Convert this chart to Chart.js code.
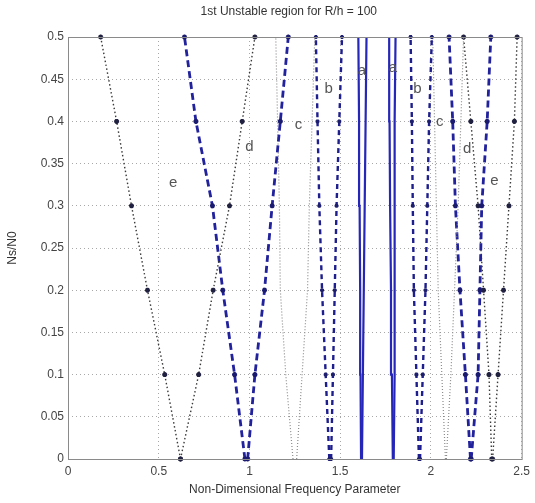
<!DOCTYPE html>
<html>
<head>
<meta charset="utf-8">
<script src="https://cdn.jsdelivr.net/npm/chart.js@4.4.1/dist/chart.umd.min.js"></script>
<style>
    html, body { margin: 0; padding: 0; background: #fff; }
</style>
</head>
<body>
<canvas id="regionChart" width="535" height="503"></canvas>
<script>
// Ns/N0 levels where every boundary was sampled
const nsRatio = [0, 0.1, 0.2, 0.3, 0.4, 0.5];

// first family of regions (left)
const eLeftA = [0.62, 0.533, 0.438, 0.35, 0.268, 0.18];
const eLeftB = [0.62, 0.72, 0.80, 0.89, 0.96, 1.03];
const dLeftA = [0.975, 0.918, 0.853, 0.796, 0.705, 0.642];
const dLeftB = [0.99, 1.03, 1.083, 1.125, 1.17, 1.214];
const cLeftA = [1.24, 1.20, 1.17, 1.165, 1.155, 1.145];
const cLeftB = [1.26, 1.29, 1.32, 1.33, 1.345, 1.36];
const bLeftA = [1.44, 1.42, 1.40, 1.385, 1.375, 1.366];
const bLeftB = [1.45, 1.46, 1.47, 1.48, 1.495, 1.51];
const aLeftA = [1.615, 1.612, 1.61, 1.607, 1.604, 1.60];
const aLeftB = [1.62, 1.625, 1.63, 1.635, 1.64, 1.645];

// second family of regions (right)
const aRightA = [1.79, 1.785, 1.78, 1.775, 1.772, 1.77];
const aRightB = [1.795, 1.80, 1.80, 1.80, 1.80, 1.805];
const bRightA = [1.934, 1.92, 1.906, 1.90, 1.895, 1.888];
const bRightB = [1.94, 1.955, 1.97, 1.98, 1.99, 2.005];
const cRightA = [2.08, 2.06, 2.04, 2.03, 2.02, 2.01];
const cRightB = [2.085, 2.11, 2.13, 2.15, 2.165, 2.18];
const dRightA = [2.218, 2.19, 2.16, 2.135, 2.12, 2.10];
const dRightB = [2.222, 2.26, 2.27, 2.28, 2.31, 2.33];
const eRightA = [2.335, 2.32, 2.29, 2.26, 2.22, 2.18];
const eRightB = [2.34, 2.37, 2.40, 2.43, 2.46, 2.475];

// region letters and where they sit (data coords)
const regionNames = ['e', 'd', 'c', 'b', 'a', 'a', 'b', 'c', 'd', 'e'];
const regionX = [0.58, 1.0, 1.27, 1.436, 1.62, 1.79, 1.925, 2.048, 2.20, 2.35];
const regionY = [0.327, 0.37, 0.396, 0.439, 0.46, 0.463, 0.438, 0.40, 0.368, 0.33];

const xTicks = [0, 0.5, 1, 1.5, 2, 2.5];
const yTicks = [0, 0.05, 0.1, 0.15, 0.2, 0.25, 0.3, 0.35, 0.4, 0.45, 0.5];

const FONT = "'Liberation Sans', Arial, sans-serif";

// line look per region letter
const looks = {
    a: { borderColor: '#2626b8', borderWidth: 2.2, borderDash: [], pointRadius: 0 },
    b: { borderColor: '#1e1e8e', borderWidth: 2.4, borderDash: [5, 4], pointRadius: 2, pointStyle: 'star', pointBorderColor: '#1e1e6e' },
    c: { borderColor: '#8c8c8c', borderWidth: 1.2, borderDash: [1, 2], pointRadius: 0 },
    d: { borderColor: '#22229c', borderWidth: 2.8, borderDash: [7, 4], pointRadius: 2.5, pointStyle: 'star', pointBorderColor: '#1a1a70' },
    e: { borderColor: '#3a3a3a', borderWidth: 1.4, borderDash: [1.5, 2.5], pointRadius: 2.5, pointStyle: 'star', pointBorderColor: '#202040' }
};

const boundary = (xs, key) => Object.assign({
    data: nsRatio.map((y, i) => ({ x: xs[i], y })),
    showLine: true,
    fill: false,
    tension: 0,
    pointBorderWidth: 1.6,
    clip: false
}, looks[key]);

const datasets = [
    boundary(eLeftA, 'e'), boundary(eLeftB, 'e'),
    boundary(dLeftA, 'd'), boundary(dLeftB, 'd'),
    boundary(cLeftA, 'c'), boundary(cLeftB, 'c'),
    boundary(bLeftA, 'b'), boundary(bLeftB, 'b'),
    boundary(aLeftA, 'a'), boundary(aLeftB, 'a'),
    boundary(aRightA, 'a'), boundary(aRightB, 'a'),
    boundary(bRightA, 'b'), boundary(bRightB, 'b'),
    boundary(cRightA, 'c'), boundary(cRightB, 'c'),
    boundary(dRightA, 'd'), boundary(dRightB, 'd'),
    boundary(eRightA, 'e'), boundary(eRightB, 'e')
];

// box round the axes, the title over the axes and the region letters
const decorations = {
    id: 'decorations',
    afterDraw(chart) {
        const { ctx, chartArea: area, scales } = chart;
        ctx.save();
        ctx.strokeStyle = '#8a8a8a';
        ctx.lineWidth = 1;
        ctx.setLineDash([]);
        ctx.strokeRect(area.left + 0.5, area.top + 0.5, area.right - area.left, area.bottom - area.top);

        ctx.fillStyle = '#555';
        ctx.font = '15px ' + FONT;
        ctx.textAlign = 'center';
        ctx.textBaseline = 'middle';
        regionNames.forEach((name, i) => {
            ctx.fillText(name, scales.x.getPixelForValue(regionX[i]), scales.y.getPixelForValue(regionY[i]));
        });

        ctx.fillStyle = '#333';
        ctx.font = '12px ' + FONT;
        ctx.fillText('1st Unstable region for R/h = 100', (area.left + area.right) / 2 - 6, 12);
        ctx.restore();
    }
};

const fmt = v => String(Math.round(v * 100) / 100);

new Chart(document.getElementById('regionChart'), {
    type: 'scatter',
    data: { datasets },
    plugins: [decorations],
    options: {
        responsive: false,
        animation: false,
        layout: { padding: { top: 37, right: 12, left: 0, bottom: 0 } },
        plugins: { legend: { display: false }, tooltip: { enabled: false } },
        scales: {
            x: {
                type: 'linear',
                min: 0,
                max: 2.5,
                afterBuildTicks: s => { s.ticks = xTicks.map(value => ({ value })); },
                afterFit: s => { s.height = 44; },
                grid: { color: '#a8a8a8', lineWidth: 1, drawTicks: false },
                border: { display: false, dash: [1, 3] },
                ticks: { padding: 5, color: '#444', font: { family: FONT, size: 12 }, callback: fmt, maxRotation: 0 },
                title: { display: true, text: 'Non-Dimensional Frequency Parameter', color: '#333', font: { family: FONT, size: 12 }, padding: { top: 0, bottom: 6 } }
            },
            y: {
                type: 'linear',
                min: 0,
                max: 0.5,
                afterBuildTicks: s => { s.ticks = yTicks.map(value => ({ value })); },
                afterFit: s => { s.width = 68; },
                grid: { color: '#a8a8a8', lineWidth: 1, drawTicks: false },
                border: { display: false, dash: [1, 3] },
                ticks: { padding: 4, color: '#444', font: { family: FONT, size: 12 }, callback: fmt },
                title: { display: true, text: 'Ns/N0', color: '#333', font: { family: FONT, size: 12 }, padding: { top: 5, bottom: 0 } }
            }
        }
    }
});
</script>
</body>
</html>
